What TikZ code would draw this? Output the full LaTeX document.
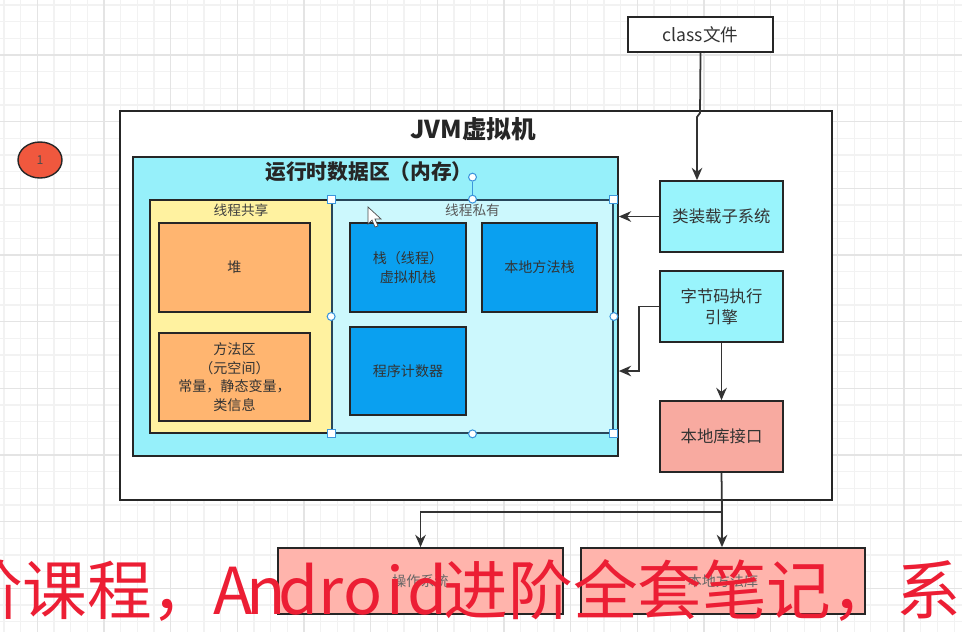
\documentclass[tikz,border=0pt]{standalone}
\usepackage{fontspec}
\setmainfont{Noto Sans CJK SC}
\usetikzlibrary{arrows.meta,shapes.geometric}

\definecolor{gridminor}{RGB}{242,242,242}
\definecolor{gridmajor}{RGB}{228,228,228}
\definecolor{runcyan}{RGB}{150,240,250}
\definecolor{shareyellow}{RGB}{255,242,160}
\definecolor{heaporange}{RGB}{255,181,112}
\definecolor{privcyan}{RGB}{204,248,253}
\definecolor{privedge}{RGB}{40,70,90}
\definecolor{stackblue}{RGB}{10,160,240}
\definecolor{partcyan}{RGB}{153,244,252}
\definecolor{nativered}{RGB}{248,170,160}
\definecolor{osred}{RGB}{255,180,172}
\definecolor{badgered}{RGB}{240,88,62}
\definecolor{handleblue}{RGB}{60,150,220}
\definecolor{subred}{RGB}{236,30,52}

\newcommand\mono[1]{\makebox[0.5em][c]{#1}}

\begin{document}
\begin{tikzpicture}[x=0.02cm,y=-0.02cm,
	box/.style={draw=black!85, line width=1pt, inner sep=1pt, align=center, text=black!80, font=\fontsize{8}{10.5}\selectfont},
	part/.style={box, minimum width=2.46cm, minimum height=1.42cm, font=\fontsize{9.3}{12}\selectfont},
	arr/.style={draw=black!80, line width=1pt, -{Stealth[length=7pt,width=6pt]}},
	handle/.style={draw=handleblue, fill=white, line width=0.6pt, inner sep=0pt, minimum size=4.5pt}]

		\useasboundingbox (0,0) rectangle (962,632);

		% background grid
		\foreach \i in {0,...,57} \draw[gridminor, line width=0.6pt] ({4+16.667*\i},0) -- ++(0,632);
		\foreach \i in {0,...,38} \draw[gridminor, line width=0.6pt] (0,{5+16.667*\i}) -- ++(962,0);
		\foreach \i in {0,...,14} \draw[gridmajor, line width=0.8pt] ({37.3+66.667*\i},0) -- ++(0,632);
		\foreach \i in {0,...,9} \draw[gridmajor, line width=0.8pt] (0,{55+66.667*\i}) -- ++(962,0);

		\node[draw=black!85, fill=badgered, ellipse, line width=0.8pt, minimum width=0.88cm, minimum height=0.72cm, font=\fontsize{7}{8}\selectfont, text=black!70] (badge) at (40,160) {1};

		\node[box, fill=white, minimum width=2.9cm, minimum height=0.7cm, font=\fontsize{10}{12}\selectfont] (classfile) at (700.5,34.5) {class文件};

		\node[box, fill=white, minimum width=14.24cm, minimum height=7.78cm] (jvm) at (476,305.5) {};
		\node[font=\bfseries\fontsize{14}{16}\selectfont, text=black!85] (jvmtitle) at (473,129) {JVM虚拟机};

		% runtime data area
		\node[box, fill=runcyan, minimum width=9.7cm, minimum height=5.98cm] (runtime) at (375.5,306.5) {};
		\node[font=\bfseries\fontsize{11.8}{14}\selectfont, text=black!85] (runtitle) at (369,172) {运行时数据区（内存）};

		\node[box, fill=shareyellow, minimum width=3.64cm, minimum height=4.66cm] (shared) at (241,316.5) {};
		\node[font=\fontsize{7.8}{9}\selectfont, text=black!75] (sharedtitle) at (241,210) {线程共享};
		\node[box, fill=heaporange, minimum width=3.02cm, minimum height=1.78cm] (heap) at (234.5,267.5) {堆};
		\node[box, fill=heaporange, minimum width=3.02cm, minimum height=1.76cm] (method) at (234.5,377) {方法区\\（元空间）\\常量，静态变量，\\类信息};

		\node[box, draw=privedge, fill=privcyan, minimum width=5.62cm, minimum height=4.66cm] (private) at (472.5,316.5) {};
		\node[font=\fontsize{7.8}{9}\selectfont, text=black!65] (privatetitle) at (472.5,210) {线程私有};
		\node[box, fill=stackblue, minimum width=2.32cm, minimum height=1.78cm] (vmstack) at (408,267.5) {栈（线程）\\虚拟机栈};
		\node[box, fill=stackblue, minimum width=2.3cm, minimum height=1.78cm] (nstack) at (539.5,267.5) {本地方法栈};
		\node[box, fill=stackblue, minimum width=2.32cm, minimum height=1.76cm] (pc) at (408,371) {程序计数器};

		% selection handles
		\path (private.north) ++(0,-22) node[handle, circle] (rot) {};
		\draw[handleblue, line width=0.6pt] (private.north) -- (rot);
		\foreach \a in {north west, north east, south west, south east} \node[handle] at (private.\a) {};
		\foreach \a in {north, south, west, east} \node[handle, circle] at (private.\a) {};

		% mouse pointer
		\draw[fill=white, draw=black!70, line width=0.4pt] (368,207) -- (368,224) -- (372,220) -- (375,227) -- (378,226) -- (375,219) -- (381,219) -- cycle;

		% right column
		\node[part, fill=partcyan] (loader) at (721.5,216.5) {类装载子系统};
		\node[part, fill=partcyan] (engine) at (721.5,306.5) {字节码执行\\引擎};
		\node[part, fill=nativered] (native) at (721.5,436.5) {本地库接口};

		\node[box, fill=osred, minimum width=5.7cm, minimum height=1.32cm, text=black!60] (os) at (420.5,581) {操作系统};
		\node[box, fill=osred, minimum width=5.68cm, minimum height=1.32cm, text=black!60] (lib) at (723,581) {本地方法库};

		% connectors
		\coordinate (jog) at (697,117);
		\draw[arr] (classfile.south) -- (700,113) -- (jog) -- (jog |- loader.north);
		\draw[arr] (loader.west) -- (runtime.east |- loader.west);
		\draw[arr] (engine.west) -- ++(-20,0) |- (runtime.east |- pc);
		\draw[arr] (engine.south) -- (native.north);
		\coordinate (split) at (722,512);
		\draw[arr] (native.south) -- (split) -- (lib.north -| split);
		\draw[arr] (split) -| (os.north);

		% subtitle overlay
		\node[anchor=base east, inner sep=0pt, text=subred, font=\fontsize{36.8}{37}\selectfont] (subA) at (217,614) {阶课程，};
		\node[anchor=base west, inner sep=0pt, text=subred, font=\fontsize{36.8}{37}\selectfont] (subB) at (217,614) {\mono{A}\mono{n}\mono{d}\mono{r}\mono{o}\mono{i}\mono{d}进阶全套笔记，系};

\end{tikzpicture}
\end{document}
